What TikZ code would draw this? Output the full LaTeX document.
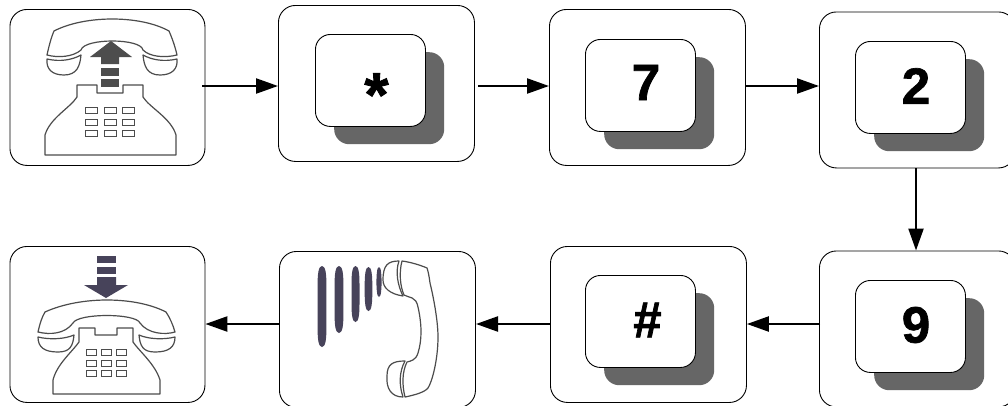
\documentclass[tikz,border=0pt]{standalone}
\usepackage{fontspec}
\setmainfont{Liberation Sans}
\newfontface\heavyface[FakeBold=1.4]{Liberation Sans Bold}
\usetikzlibrary{arrows.meta}
\definecolor{shade}{HTML}{666666}
\definecolor{darkar}{HTML}{4D4D4D}
\definecolor{navy}{HTML}{47435A}
\tikzset{
  outer/.style={draw=black,line width=0.9pt,fill=white,rounded corners=17pt,minimum width=#1,minimum height=156pt,inner sep=0pt,anchor=north west},
  outer/.default=196pt,
  keycap/.style={draw=black,line width=0.9pt,fill=white,rounded corners=15pt,minimum width=110pt,minimum height=92pt,inner sep=0pt,anchor=north west},
  keyshadow/.style={fill=shade,draw=none,rounded corners=15pt,minimum width=110pt,minimum height=92pt,inner sep=0pt,anchor=north west},
  keytext/.style={inner sep=0pt,text=black,font=\heavyface\fontsize{51}{51}\selectfont},
  flow/.style={line width=2.3pt,-{Triangle[length=22pt,width=15pt]}},
  ph/.style={draw=black!70,line width=1.2pt,fill=white,line join=round},
  btn/.style={draw=black!70,line width=1pt,fill=white},
  wave/.style={fill=navy,draw=none}
}
\begin{document}
\begin{tikzpicture}[x=1pt,y=-1pt]
\useasboundingbox (0,0) rectangle (1008,405);
\clip (0,0) rectangle (1008,405);
\fill[white] (0,0) rectangle (1008,405);
% outer boxes
\node[outer=195pt] (b1) at (9.5,9) {};
\node[outer] (b2) at (278,5) {};
\node[outer] (b3) at (549,9) {};
\node[outer] (b4) at (819,11.5) {};
\node[outer] (b5) at (819,250.5) {};
\node[outer] (b6) at (550,246) {};
\node[outer] (b7) at (279,251) {};
\node[outer=195pt] (b8) at (9.5,246) {};
% keys
\node[keyshadow] (s2) at (334,52) {};
\node[keycap] (k2) at (315,34) {};
\node[keytext,font=\heavyface\fontsize{62}{62}\selectfont,anchor=base] (t2) at (376.5,116) {*};
\node[keyshadow] (s3) at (604,57) {};
\node[keycap] (k3) at (585,39) {};
\node[keytext] (t3) at (646,82.5) {7};
\node[keyshadow] (s4) at (874,59) {};
\node[keycap] (k4) at (855,41) {};
\node[keytext] (t4) at (916,86) {2};
\node[keyshadow] (s5) at (874,298) {};
\node[keycap] (k5) at (855,280) {};
\node[keytext] (t5) at (916,325) {9};
\node[keyshadow] (s6) at (604,293) {};
\node[keycap] (k6) at (585,275) {};
\node[keytext] (t6) at (647.5,320) {\#};
% arrows
\coordinate (p1) at (202,86);
\coordinate (p2) at (478,86);
\coordinate (p3) at (916,168);
\coordinate (p4) at (820,324);
\coordinate (p5) at (476,324);
\draw[flow] (p1) -- (b2.west |- p1);
\draw[flow] (p2) -- (b3.west |- p2);
\draw[flow] (b3.east |- p2) -- (b4.west |- p2);
\draw[flow] (p3) -- (p3 |- b5.north);
\draw[flow] (p4) -- (b6.east |- p4);
\draw[flow] (b6.west |- p4) -- (p5);
\draw[flow] (b7.west |- p4) -- (b8.east |- p4);
% phone 1 (lift)
\draw[ph] (47,55) .. controls (49,46) and (51,38) .. (54,31) .. controls (85,15) and (140,15) .. (169,31) .. controls (172,38) and (175,46) .. (177,55) .. controls (165,58) and (150,57) .. (143,50) .. controls (141,38) and (84,38) .. (81,50) .. controls (73,57) and (58,58) .. (47,55) -- cycle;
\draw[ph] (47,59) .. controls (60,62) and (72,60) .. (81,55) .. controls (80,66) and (77,75) .. (64,75) .. controls (52,75) and (46,69) .. (47,59) -- cycle;
\draw[ph] (177,59) .. controls (164,62) and (152,60) .. (143,55) .. controls (144,66) and (147,75) .. (160,75) .. controls (172,75) and (178,69) .. (177,59) -- cycle;
\draw[ph] (45,155) -- (45,135) .. controls (50,118) and (70,108) .. (77,97) -- (77,85) -- (97,85) -- (97,93) -- (123,93) -- (123,85) -- (143,85) -- (143,97) .. controls (150,108) and (171,118) .. (176,135) -- (176,155) -- cycle;
\foreach \cx in {91,110,128}\foreach \cy in {110.5,122.5,133.5}
  \draw[btn] (\cx-6,\cy-3.3) rectangle (\cx+6,\cy+3.3);
\fill[darkar] (111,41) -- (132,57) -- (119,57) -- (119,64) -- (101,64) -- (101,57) -- (90,57) -- cycle;
\fill[darkar] (101,68) rectangle (119,76);
\fill[darkar] (101,79) rectangle (119,87);
% phone 2 (hang up)
\fill[navy] (97,256) rectangle (116,263);
\fill[navy] (97,267) rectangle (116,274);
\fill[navy] (97,277) -- (116,277) -- (116,285) -- (128,285) -- (106,298) -- (84,285) -- (97,285) -- cycle;
\draw[ph] (38,332) .. controls (40,323) and (42,317) .. (45,312) .. controls (80,296) and (135,296) .. (166,312) .. controls (170,318) and (173,325) .. (175,332) .. controls (165,335) and (148,334) .. (140,323) .. controls (136,313) and (78,313) .. (73,323) .. controls (65,334) and (50,335) .. (38,332) -- cycle;
\draw[ph] (38,337) .. controls (50,340) and (65,339) .. (74,335) .. controls (73,346) and (70,352) .. (58,352) .. controls (44,352) and (38,347) .. (38,337) -- cycle;
\draw[ph] (175,337) .. controls (163,340) and (148,339) .. (139,335) .. controls (140,346) and (143,352) .. (155,352) .. controls (169,352) and (175,347) .. (175,337) -- cycle;
\draw[ph] (53,394) -- (53,380) .. controls (57,364) and (72,352) .. (79,342) -- (79,328) -- (95,328) -- (95,335) -- (117,335) -- (117,328) -- (133,328) -- (133,342) .. controls (140,352) and (155,364) .. (160,380) -- (160,394) -- cycle;
\foreach \cx in {91,106,121}\foreach \cy in {352,363,373.5}
  \draw[btn] (\cx-5,\cy-3) rectangle (\cx+5,\cy+3);
% handset with sound
\foreach \cx/\hw/\t/\b in {322/4.4/266/347,339/4.4/266/333,355.5/4/266/322,368.5/3.8/267/311,379/2.6/267/297}
  \fill[wave] (\cx,\t) .. controls (\cx+.8*\hw,\t) and (\cx+\hw,\t+8) .. (\cx+\hw,\t+18) -- (\cx+\hw,\b-18) .. controls (\cx+\hw,\b-8) and (\cx+.8*\hw,\b) .. (\cx,\b) .. controls (\cx-.8*\hw,\b) and (\cx-\hw,\b-8) .. (\cx-\hw,\b-18) -- (\cx-\hw,\t+18) .. controls (\cx-\hw,\t+8) and (\cx-.8*\hw,\t) .. (\cx,\t) -- cycle;
\draw[ph] (399,261) .. controls (388,261) and (383,265) .. (383,280) .. controls (383,288) and (390,294) .. (403,296) .. controls (398,286) and (395,272) .. (399,261) -- cycle;
\draw[ph] (402,261) .. controls (399,272) and (400,286) .. (404,295) .. controls (409,298) and (416,296) .. (418,307) .. controls (422,325) and (422,340) .. (418,353) .. controls (416,360) and (411,361) .. (407,362) .. controls (402,372) and (402,385) .. (405,397) .. controls (415,395) and (425,392) .. (428,388) .. controls (432,382) and (438,360) .. (438,337) .. controls (438,320) and (433,295) .. (430,283) .. controls (429,275) and (428,271) .. (427,268) .. controls (420,265) and (410,262) .. (402,261) -- cycle;
\draw[ph] (405,361) .. controls (393,361) and (387,364) .. (387,376) .. controls (386,388) and (391,397) .. (403,397) .. controls (399,385) and (399,372) .. (405,361) -- cycle;
\end{tikzpicture}
\end{document}
